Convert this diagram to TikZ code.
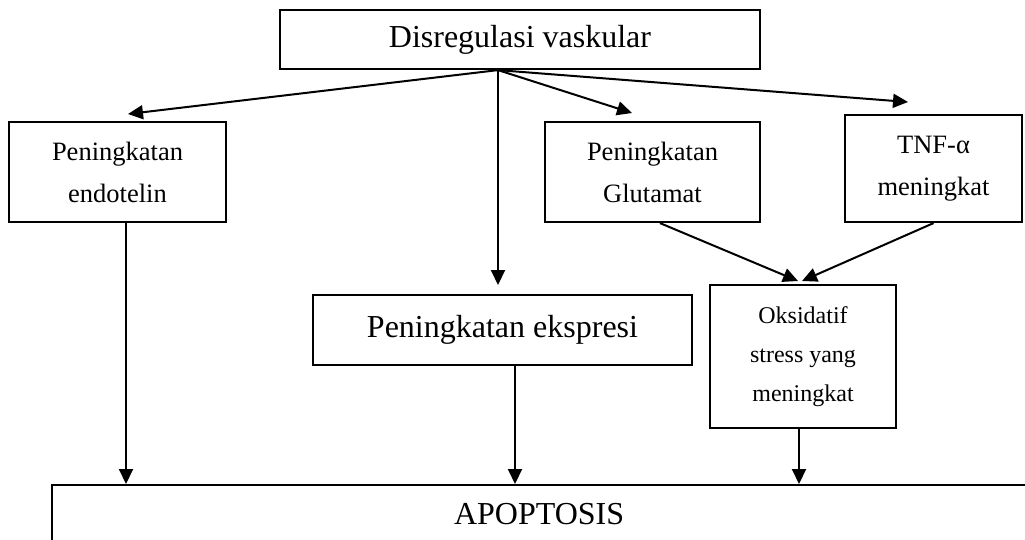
\documentclass[tikz,border=0pt]{standalone}
\usepackage{fontspec}
\setmainfont{Liberation Serif}
\usetikzlibrary{arrows.meta,positioning,calc}

\begin{document}
\begin{tikzpicture}[x=1pt,y=-1pt,
  box/.style={draw,line width=2.2pt,inner sep=0pt,align=center},
  arr/.style={line width=2pt,-{Triangle[length=15pt,width=14pt]}},
  big/.style={font=\fontsize{32}{38}\selectfont},
  mid/.style={font=\fontsize{26.5}{42}\selectfont},
  sml/.style={font=\fontsize{24}{39}\selectfont}]
  \useasboundingbox (0,0) rectangle (1025,539);
  % top cause
  \node[box,big,minimum width=480,minimum height=59] (dis) at (520,39.5) {\raisebox{-6pt}{Disregulasi vaskular}};

  % second row
  \node[box,mid,minimum width=217,minimum height=100] (endo) at (117.5,172) {Peningkatan\\endotelin};
  \node[box,mid,minimum width=215,minimum height=100] (glut) at (652.5,172) {Peningkatan\\Glutamat};
  \node[box,mid,minimum width=177,minimum height=107] (tnf) at (933.5,168.5) {TNF-α\\meningkat};

  % third row
  \node[box,big,minimum width=379,minimum height=70] (eksp) at (502.5,330) {Peningkatan ekspresi};
  \node[box,sml,minimum width=186,minimum height=143] (oks) at (803,356.5) {Oksidatif\\stress yang\\meningkat};

  % result
  \node[box,big,anchor=north west,minimum width=990,minimum height=58] (apo) at (51,484) {APOPTOSIS\hspace*{16pt}};

  % arrows from top
  \coordinate (hub) at ([xshift=-22pt]dis.south);
  \coordinate (endoTip) at (128,114);
  \coordinate (ekspTip) at (498,285);
  \coordinate (glutTip) at (632,113);
  \coordinate (tnfTip) at (908,102);
  \draw[arr] (hub) -- (endoTip);
  \draw[arr] (hub) -- (ekspTip);
  \draw[arr] (hub) -- (glutTip);
  \draw[arr] (hub) -- (tnfTip);

  % into oxidative stress
  \coordinate (oksL) at (798,281);
  \coordinate (oksR) at (802,281);
  \draw[arr] ([xshift=7.5pt]glut.south) -- (oksL);
  \draw[arr] (tnf.south) -- (oksR);

  % down to apoptosis
  \draw[arr] ([xshift=8.5pt]endo.south) -- ([xshift=8.5pt]endo.south |- apo.north);
  \draw[arr] ([xshift=12.5pt]eksp.south) -- ([xshift=12.5pt]eksp.south |- apo.north);
  \draw[arr] ([xshift=-4pt]oks.south) -- ([xshift=-4pt]oks.south |- apo.north);
\end{tikzpicture}
\end{document}
